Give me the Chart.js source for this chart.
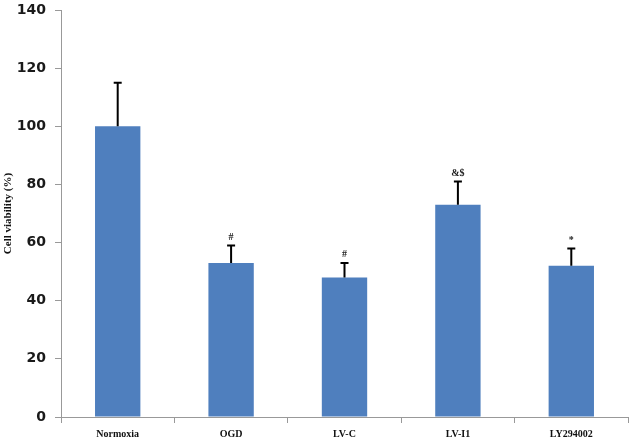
<!DOCTYPE html>
<html><head><meta charset="utf-8">
<script src="https://cdn.jsdelivr.net/npm/chart.js@4"></script>
<style>html,body{margin:0;padding:0;background:#fff}#wrap{width:630px;height:441px}</style>
</head><body><div id="wrap"><canvas id="c" width="630" height="441"></canvas></div>
<script>
const categories = ["Normoxia", "OGD", "LV-C", "LV-I1", "LY294002"];
const viability = [100, 53, 48, 73, 52];
const errorUpper = [15, 6, 5, 8, 6];
const marks = ["", "#", "#", "&$", "*"];
const yTicks = [0, 20, 40, 60, 80, 100, 120, 140];

const errorPlugin = {
  id: 'errs',
  afterDatasetsDraw(chart) {
    const ctx = chart.ctx, x = chart.scales.x, y = chart.scales.y;
    ctx.save();
    viability.forEach((v, i) => {
      const px = x.getPixelForValue(i);
      const y0 = y.getPixelForValue(v);
      const y1 = y.getPixelForValue(v + errorUpper[i]);
      ctx.strokeStyle = '#000'; ctx.lineWidth = 2;
      ctx.beginPath(); ctx.moveTo(px, y0); ctx.lineTo(px, y1);
      ctx.moveTo(px - 4, y1); ctx.lineTo(px + 4, y1); ctx.stroke();
      if (marks[i]) {
        ctx.fillStyle = '#222';
        ctx.font = 'bold 10px "Liberation Serif"';
        ctx.textAlign = 'center'; ctx.textBaseline = 'bottom';
        ctx.fillText(marks[i], px, y1 - 3);
      }
    });
    ctx.restore();
  }
};

new Chart(document.getElementById('c'), {
  type: 'bar',
  data: {
    labels: categories,
    datasets: [{ data: viability, backgroundColor: '#4F7FBE', borderWidth: 0,
      barPercentage: 0.4, categoryPercentage: 1 }]
  },
  options: {
    responsive: false, animation: false,
    layout: { padding: { top: 10, right: 2, left: 0, bottom: 0 } },
    plugins: { legend: { display: false }, tooltip: { enabled: false } },
    scales: {
      x: {
        afterFit(s) { s.height = 24; s.paddingLeft = 0; s.paddingRight = 0; },
        grid: { offset: true, drawOnChartArea: false, tickLength: 6, color: '#999' },
        border: { color: '#999', width: 1 },
        ticks: { color: '#111', font: { family: 'Liberation Serif', weight: 'bold', size: 10 }, padding: 5, maxRotation: 0 }
      },
      y: {
        min: 0, max: 140,
        afterFit(s) { s.width = 61; s.paddingTop = 0; s.paddingBottom = 0; },
        afterBuildTicks(s) { s.ticks = yTicks.map(v => ({ value: v })); },
        grid: { drawOnChartArea: false, tickLength: 6, color: '#999' },
        border: { color: '#999', width: 1 },
        ticks: { color: '#1a1a1a', font: { family: 'DejaVu Sans', weight: 'bold', size: 14 }, padding: 9 },
        title: { display: true, text: 'Cell viability (%)', color: '#111',
          font: { family: 'Liberation Serif', weight: 'bold', size: 11 }, padding: { top: 2, bottom: 0 } }
      }
    }
  },
  plugins: [errorPlugin]
});
</script></body></html>
